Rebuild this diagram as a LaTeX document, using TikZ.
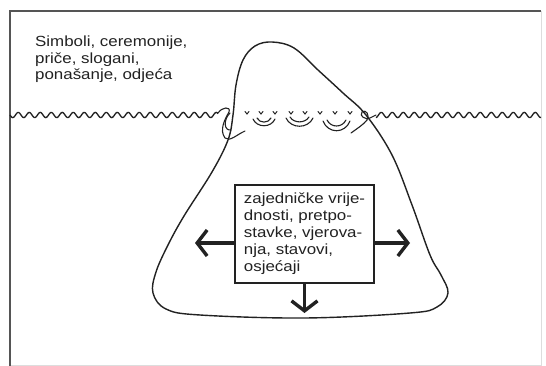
\documentclass[tikz,border=0pt]{standalone}
\usepackage{fontspec}
\newfontfamily\hel[FakeStretch=1.15]{Liberation Sans}
\usetikzlibrary{arrows.meta}
\definecolor{ink}{HTML}{222222}
\definecolor{frm}{HTML}{555555}
\definecolor{faint}{HTML}{DDDDDD}
\tikzset{
  ice/.style={draw=ink, line width=1.4pt, line join=round},
  wave/.style={draw=ink, line width=1.3pt},
  deco/.style={draw=ink, line width=1.1pt, line cap=round},
  box/.style={draw=ink, line width=1.3pt, fill=white, align=left, inner xsep=8pt,
    minimum width=139pt, minimum height=98pt, text=ink,
    font=\hel\fontsize{14.7}{17}\selectfont},
  bigarrow/.style={draw=ink, line width=3.4pt, -{Straight Barb[length=10pt,width=26pt]}},
  lbl/.style={inner sep=0pt, align=left, text=ink, font=\hel\fontsize{14.7}{16.5}\selectfont}
}
\begin{document}
\begin{tikzpicture}[x=1pt,y=-1pt]
\useasboundingbox (0,0) rectangle (546,366);
\fill[white] (0,0) rectangle (546,366);
% frame
\draw[faint, line width=1pt] (541,11) -- (541,365) -- (10,365);
\draw[frm, line width=2pt] (10,366) -- (10,11) -- (541,11);
% label
\node[lbl, anchor=north west] (top) at (35,36) {Simboli, ceremonije,\\ priče, slogani,\\ ponašanje, odjeća};
% waves
\draw[wave] plot[smooth, domain=10:218, samples=240] (\x,{115+2.6*sin(mod(\x-10,11)/11*360)});
\draw[wave] plot[smooth, domain=376:541, samples=200] (\x,{115+2.6*sin(mod(\x-10,11)/11*360)});
% iceberg
\draw[ice] plot[smooth cycle, tension=0.6] coordinates {
 (272,42) (294,48) (318,70) (343,93) (366,115) (392,155) (412,205) (430,255)
 (441,275) (448,293) (437,307) (410,313) (305,318) (200,315) (166,309)
 (153,293) (156,272) (168,245) (184,216) (212,172) (228,140) (233,115) (236,85) (243,60) (255,46)};
% left curl
\draw[deco] (218,113) .. controls (222,107) and (231,106) .. (229,112)
  .. controls (225,119) and (219,130) .. (225,138) .. controls (230,142) and (236,135) .. (245,131);
\draw[deco] (230,113) .. controls (223,120) and (224,131) .. (231,130);
% right curl
\draw[deco] (351,133) .. controls (358,128) and (364,124) .. (367,120)
  .. controls (370,115) and (366,109) .. (362,112) .. controls (359,116) and (365,120) .. (370,118)
  .. controls (372,117) and (374,116) .. (376,115);
% ticks on the water line
\foreach \t in {247,261,275,291,305,320,335,350}
  \draw[deco, line width=1pt] (\t-2,111.5) -- (\t,114) -- (\t+2,111.5);
% smiles
\draw[deco] (253,119) .. controls (257,128) and (271,128) .. (275,119);
\draw[deco] (257,118) .. controls (260,123.5) and (268,123.5) .. (271,118);
\draw[deco] (286,118) .. controls (291,129) and (308,129) .. (313,118);
\draw[deco] (290,117) .. controls (294,123.5) and (305,123.5) .. (309,117);
\draw[deco] (323,121) .. controls (328,134) and (345,134) .. (350,121);
\draw[deco] (327,120) .. controls (331,128) and (342,128) .. (346,120);
% box
\node[box] (box) at (304.5,234) {zajedničke vrije-\\ dnosti, pretpo-\\ stavke, vjerova-\\ nja, stavovi,\\ osjećaji};
\coordinate (lt) at (195,243);
\coordinate (rt) at (410,243);
\coordinate (dn) at (304.5,313);
\draw[bigarrow] (box.west |- lt) -- (lt);
\draw[bigarrow] (box.east |- rt) -- (rt);
\draw[bigarrow] (box.south) -- (dn);
\end{tikzpicture}
\end{document}
